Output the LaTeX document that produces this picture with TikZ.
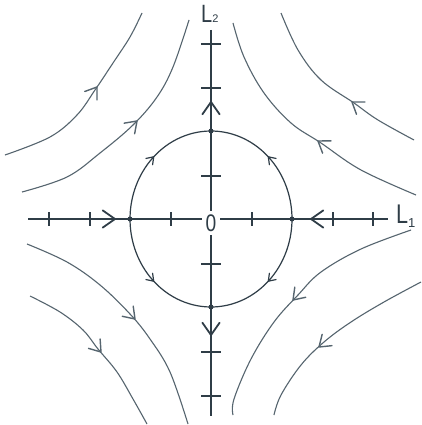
\documentclass[tikz,border=0pt]{standalone}
\usepackage{fontspec}
\usepackage{graphicx}
\newfontfamily\hand{Liberation Sans}
\usetikzlibrary{calc}
\definecolor{axiscol}{HTML}{2F3D47}
\definecolor{curvecol}{HTML}{56656F}
% V-shaped arrow head: #1 tip, #2 a point behind it, #3 barb length, #4 style
\newcommand\vhead[4]{\draw[#4] ($(#1)!#3!35:(#2)$) -- (#1) -- ($(#1)!#3!-35:(#2)$);}
\begin{document}
\begin{tikzpicture}[x=1pt,y=-1pt,
  axisline/.style={draw=axiscol,line width=1.7pt},
  tickline/.style={draw=axiscol,line width=1.1pt},
  orbit/.style={draw=curvecol,line width=1.1pt},
  circorbit/.style={draw=axiscol,line width=1.2pt},
  axishead/.style={draw=axiscol,line width=1.8pt,line cap=round,line join=round},
  flowhead/.style={draw=curvecol,line width=1.4pt,line cap=round,line join=round},
  circhead/.style={draw=axiscol,line width=1.2pt,line cap=round,line join=round},
  eqpt/.style={circle,fill=axiscol,inner sep=0pt,minimum size=5pt},
  lab/.style={inner sep=0pt,text=axiscol}
]
\useasboundingbox[fill=white] (0,0) rectangle (422,425);

% axes end points
\coordinate (xl) at (28,219);
\coordinate (xr) at (388,219);
\coordinate (yt) at (211,30);
\coordinate (yb) at (211,416);
\coordinate (O) at (211,219);
% arrow tips on axes
\coordinate (ah1) at (115,219);
\coordinate (ah2) at (311,219);
\coordinate (av1) at (211,102);
\coordinate (av2) at (211,335);

% circle (separatrix)
\draw[circorbit] plot[domain=0:360,samples=120] ({211+81*cos(\x)},{219-88*sin(\x)});
% arrows on the circle
\coordinate (c1a) at (149.6,161.2); \coordinate (c1b) at (153.7,156.8);
\coordinate (c2a) at (272.4,161.2); \coordinate (c2b) at (268.3,156.8);
\coordinate (c3a) at (149.6,276.8); \coordinate (c3b) at (153.7,281.2);
\coordinate (c4a) at (272.4,276.8); \coordinate (c4b) at (268.3,281.2);
\foreach \c in {1,2,3,4} {\vhead{c\c b}{c\c a}{8pt}{circhead}}

% axes
\draw[axisline] (xl) -- (xr);
\draw[axisline] (yt) -- (yb);
\vhead{ah1}{xl}{15pt}{axishead}
\vhead{ah2}{xr}{15pt}{axishead}
\vhead{av1}{O}{15pt}{axishead}
\vhead{av2}{O}{15pt}{axishead}

% ticks
\foreach \t in {49,90,171,252,333,373}
  \draw[tickline] (\t,212) -- (\t,226);
\foreach \t in {44,88,176,264,352,396}
  \draw[tickline] (201,\t) -- (221,\t);

% equilibria
\node[eqpt] (pL) at (130,219) {};
\node[eqpt] (pR) at (292,219) {};
\node[eqpt] (pT) at (211,131) {};
\node[eqpt] (pB) at (211,307) {};

% origin label
\node[fill=white,inner xsep=4pt,inner ysep=4pt,text=axiscol] (zero) at (211,223)
  {\hand\fontsize{24}{24}\selectfont\scalebox{0.8}[1]{0}};

% axis labels
\node[lab,anchor=base west] (L1) at (396,223)
  {\hand\fontsize{27}{27}\selectfont\scalebox{0.8}[1]{L}\raisebox{-4pt}{\fontsize{13}{13}\selectfont 1}};
\node[lab,anchor=base west] (L2) at (201,23)
  {\hand\fontsize{25}{25}\selectfont\scalebox{0.8}[1]{L}{\fontsize{11}{11}\selectfont 2}};

% upper-left trajectories
\draw[orbit] plot[smooth,tension=0.6] coordinates
  {(5,155) (50,137) (77,115) (95,90) (113,63) (130,37) (142,13)};
\draw[orbit] plot[smooth,tension=0.6] coordinates
  {(22,192) (67,177) (100,153) (133,125) (157,97) (173,67) (189,20)};
% upper-right trajectories
\draw[orbit] plot[smooth,tension=0.6] coordinates
  {(416,195) (361,170) (321,143) (291,123) (264,93) (244,57) (233,23)};
\draw[orbit] plot[smooth,tension=0.6] coordinates
  {(414,140) (378,120) (354,103) (321,80) (298,50) (281,13)};
% lower-left trajectories
\draw[orbit] plot[smooth,tension=0.6] coordinates
  {(27,244) (67,262) (100,285) (130,314) (150,339) (170,372) (188,424)};
\draw[orbit] plot[smooth,tension=0.6] coordinates
  {(30,296) (60,312) (83,330) (98,349) (117,372) (133,399) (147,424)};
% lower-right trajectories
\draw[orbit] plot[smooth,tension=0.6] coordinates
  {(411,230) (361,249) (321,272) (298,295) (274,322) (251,359) (234,399) (233,415)};
\draw[orbit] plot[smooth,tension=0.6] coordinates
  {(421,282) (384,302) (351,322) (324,342) (301,365) (281,395) (274,415)};

% arrowheads on trajectories
\coordinate (fAa) at (92.4,93.6);   \coordinate (fAb) at (97,87);
\coordinate (fBa) at (131.3,126.6); \coordinate (fBb) at (137,121);
\coordinate (fCa) at (324.6,145.5); \coordinate (fCb) at (318,141);
\coordinate (fDa) at (358.6,106.6); \coordinate (fDb) at (352,102);
\coordinate (fEa) at (129.6,313.2); \coordinate (fEb) at (135,319);
\coordinate (fFa) at (96,345.8);    \coordinate (fFb) at (101,352);
\coordinate (fGa) at (298.4,294.2); \coordinate (fGb) at (293,300);
\coordinate (fHa) at (325,341.8);   \coordinate (fHb) at (319,347);
\foreach \c in {A,B,C,D,E,F,G,H} {\vhead{f\c b}{f\c a}{13pt}{flowhead}}
\end{tikzpicture}
\end{document}
